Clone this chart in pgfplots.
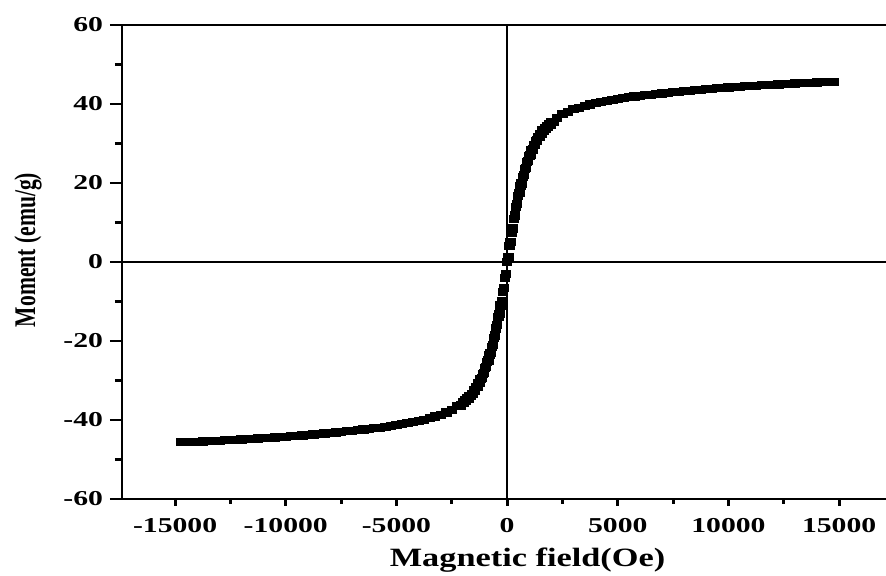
\documentclass[border=0pt]{standalone}
\usepackage{fontspec}
\usepackage{pgfplots}
\pgfplotsset{compat=1.18}
\newfontfamily\tickfont[FakeStretch=1.4]{Liberation Serif}
\newfontfamily\xlabfont[FakeStretch=1.3]{Liberation Serif}
\newfontfamily\ylabfont[FakeStretch=0.72]{Liberation Serif}

\begin{document}
\begin{tikzpicture}
\begin{axis}[
scale only axis,
width=382pt, height=237pt,
xmin=-17400, xmax=17118,
ymin=-60, ymax=60,
separate axis lines,
axis x line=box,
axis y line=left,
axis line style={-, line width=1.4pt, black},
xtick pos=left,
ytick pos=left,
tick align=outside,
xtick={-15000,-10000,-5000,0,5000,10000,15000},
ytick={-60,-40,-20,0,20,40,60},
minor x tick num=1,
minor y tick num=1,
major tick length=6pt,
minor tick length=3.5pt,
tick style={line width=1.4pt, black},
xtick style={/pgfplots/major tick length=3.5pt, /pgfplots/minor tick length=2.5pt},
scaled x ticks=false,
xticklabel style={/pgf/number format/fixed},
/pgf/number format/assume math mode=true,
/pgf/number format/set thousands separator={},
ticklabel style={font={\fontsize{10.6}{12}\tickfont\bfseries}},
xlabel={Magnetic field(Oe)},
ylabel={Moment (emu/g)},
xlabel style={font={\fontsize{13.2}{15}\xlabfont\bfseries}, at={(axis description cs:0.5,0)}, anchor=base, xshift=11.75pt, yshift=-34pt},
ylabel style={font={\fontsize{15}{17}\ylabfont\bfseries}, at={(axis description cs:0,0.5)}, anchor=center, xshift=6pt, yshift=47pt},
]
% zero lines
\draw[line width=1pt, black] (axis cs:0,-60) -- (axis cs:0,60);
\draw[line width=1pt, black] (axis cs:-17400,0) -- (axis cs:17118,0);

% descending sweep
\addplot [only marks, mark=square*, mark size=1.8pt, mark options={xscale=1.3, black}, black]
coordinates {
(-14750,-45.6) (-14500,-45.55) (-14250,-45.5) (-14000,-45.45) (-13750,-45.4)
(-13500,-45.3) (-13250,-45.25) (-13000,-45.2) (-12750,-45.1) (-12500,-45.05)
(-12250,-44.95) (-12000,-44.9) (-11750,-44.8) (-11500,-44.75) (-11250,-44.65)
(-11000,-44.6) (-10750,-44.5) (-10500,-44.4) (-10250,-44.3) (-10000,-44.2)
(-9750,-44.1) (-9500,-44.0) (-9250,-43.9) (-9000,-43.8) (-8750,-43.65)
(-8500,-43.55) (-8250,-43.4) (-8000,-43.3) (-7750,-43.15) (-7500,-43.0)
(-7250,-42.85) (-7000,-42.7) (-6750,-42.55) (-6500,-42.4) (-6250,-42.25)
(-6000,-42.1) (-5750,-41.9) (-5500,-41.7) (-5250,-41.5) (-5000,-41.3)
(-4750,-41.0) (-4500,-40.8) (-4250,-40.5) (-4000,-40.2) (-3750,-39.9)
(-3500,-39.5) (-3250,-39.1) (-3000,-38.7) (-2750,-38.1) (-2500,-37.4)
(-2250,-36.5) (-2000,-35.5) (-1900,-35.0) (-1800,-34.5) (-1700,-33.9)
(-1600,-33.3) (-1500,-32.5) (-1400,-31.7) (-1300,-30.7) (-1200,-29.6)
(-1100,-28.3) (-1000,-26.9) (-900,-25.3) (-800,-23.5) (-700,-21.5)
(-600,-19.3) (-500,-16.8) (-400,-14.0) (-300,-11.0) (-200,-7.5)
(-100,-4.0) (0,0) (100,4.0) (200,7.5) (300,11.0)
(400,14.0) (500,16.8) (600,19.3) (700,21.5) (800,23.5)
(900,25.3) (1000,26.9) (1100,28.3) (1200,29.6) (1300,30.7)
(1400,31.7) (1500,32.5) (1600,33.3) (1700,33.9) (1800,34.5)
(1900,35.0) (2000,35.5) (2250,36.5) (2500,37.4) (2750,38.1)
(3000,38.7) (3250,39.1) (3500,39.5) (3750,39.9) (4000,40.2)
(4250,40.5) (4500,40.8) (4750,41.0) (5000,41.3) (5250,41.5)
(5500,41.7) (5750,41.9) (6000,42.1) (6250,42.25) (6500,42.4)
(6750,42.55) (7000,42.7) (7250,42.85) (7500,43.0) (7750,43.15)
(8000,43.3) (8250,43.4) (8500,43.55) (8750,43.65) (9000,43.8)
(9250,43.9) (9500,44.0) (9750,44.1) (10000,44.2) (10250,44.3)
(10500,44.4) (10750,44.5) (11000,44.6) (11250,44.65) (11500,44.75)
(11750,44.8) (12000,44.9) (12250,44.95) (12500,45.05) (12750,45.1)
(13000,45.2) (13250,45.25) (13500,45.3) (13750,45.4) (14000,45.45)
(14250,45.5) (14500,45.55) (14750,45.6)
};
% ascending sweep, steep part only (slightly offset)
\addplot [only marks, mark=square*, mark size=1.8pt, mark options={xscale=1.3, black}, black]
coordinates {
(-2100,-36.3) (-1950,-35.6) (-1850,-35.1) (-1750,-34.6) (-1650,-34.0)
(-1550,-33.3) (-1450,-32.5) (-1350,-31.6) (-1250,-30.6) (-1150,-29.4)
(-1050,-28.1) (-950,-26.6) (-850,-24.9) (-750,-23.0) (-650,-20.9)
(-550,-18.6) (-450,-16.0) (-350,-13.1) (-250,-10.0) (-150,-6.6)
(-50,-3.0) (50,1.2) (150,5.0) (250,8.5) (350,11.8)
(450,14.8) (550,17.5) (650,19.9) (750,22.0) (850,23.9)
(950,25.6) (1050,27.1) (1150,28.5) (1250,29.7) (1350,30.8)
(1450,31.7) (1550,32.5) (1650,33.2) (1750,33.8) (1850,34.3)
(1950,34.8) (2100,35.5)
};
\end{axis}
\pgfresetboundingbox
\path[use as bounding box] ([xshift=-61pt,yshift=-38.5pt]current axis.south west) rectangle ++(443pt,288pt);
\end{tikzpicture}
\end{document}
